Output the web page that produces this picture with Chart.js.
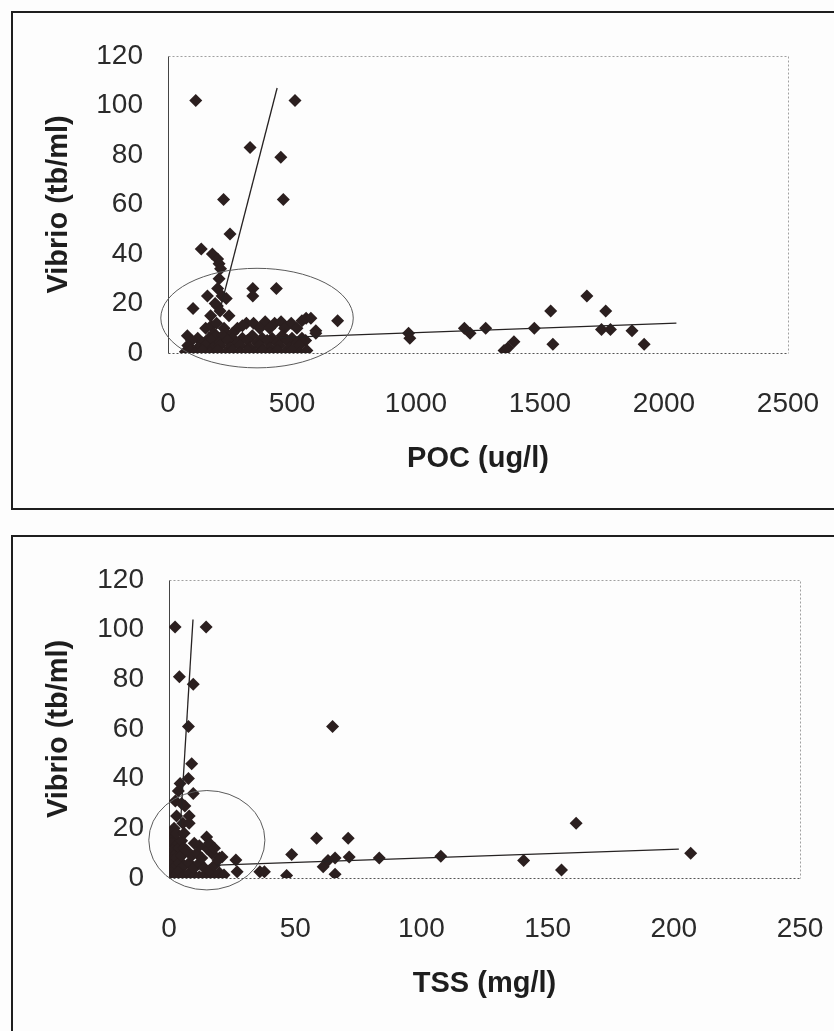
<!DOCTYPE html>
<html lang="en">
<head>
<meta charset="UTF-8">
<title>Vibrio vs POC and TSS</title>
<script src="https://cdn.jsdelivr.net/npm/chart.js"></script>
<style>
  body { margin: 0; background: #fdfdfd; font-family: "Liberation Sans", Arial, sans-serif; }
  .frame { position: absolute; border: 2px solid #1e1e1e; border-right: none; }
  #frameTop { left: 11px; top: 11px; width: 840px; height: 495px; }
  #frameBottom { left: 11px; top: 535px; width: 840px; height: 520px; border-bottom: none; }
  .box { position: absolute; }
  #boxTop { left: 14px; top: 14px; width: 820px; height: 492px; }
  #boxBottom { left: 14px; top: 538px; width: 820px; height: 493px; }
</style>
</head>
<body>
<div class="frame" id="frameTop"></div>
<div class="frame" id="frameBottom"></div>
<div class="box" id="boxTop"><canvas id="pocChart"></canvas></div>
<div class="box" id="boxBottom"><canvas id="tssChart"></canvas></div>

<script>
// ---- data ----
const vibrioTicks = [0, 20, 40, 60, 80, 100, 120];
const pocTicks = [0, 500, 1000, 1500, 2000, 2500];
const tssTicks = [0, 50, 100, 150, 200, 250];

// POC (ug/l) vs Vibrio (tb/ml)
const pocPoints = [
  [112,102],[512,102],[331,83],[455,79],[224,62],[465,62],[250,48],[134,42],[179,40],[200,38],
  [206,36],[212,34],[206,30],[200,26],[159,23],[218,23],[235,22],[342,26],[342,23],[437,26],
  [101,18],[199,19],[172,15],[246,15],[190,20],[210,17],
  [152,10],[175,11],[196,12],[226,10],[316,12],[345,12],[392,12.6],[430,12],[456,12.6],[497,12],
  [540,13],[557,14],[576,14],[684,13],[596,9],[596,8],[280,10],[300,11],[370,10],[410,10],
  [470,10],[520,10],[185,8],[235,8],[260,8],
  [78,7],[120,6],[165,6],[193,7],[220,7],[260,6],[300,6],[340,7],[380,6],[420,6],[460,7],[500,6],[540,6],
  [95,5],[140,4],[175,5],[205,4],[240,5],[280,4],[320,5],[360,4],[400,5],[440,4],[480,5],[520,4],[555,5],
  [80,3],[120,2],[150,3],[180,2],[210,3],[250,2],[290,3],[330,2],[370,3],[410,2],[450,3],[490,2],[530,3],
  [70,0.5],[90,1],[110,0],[140,1],[170,0],[200,1],[230,0],[260,1],[290,0],[320,1],[350,0],[380,1],
  [410,0],[440,1],[470,0],[500,1],[530,0],[560,1],
  [970,8],[975,6],[1195,10],[1218,8],[1281,10],[1355,1],[1370,2],[1395,4.5],[1477,10],[1543,17],
  [1552,3.5],[1689,23],[1765,17],[1748,9.5],[1784,9.5],[1871,9],[1920,3.5]
];
const pocSteep = [[215,19.5],[440,107]];
const pocFlat = [[450,6.2],[2050,12.1]];
const pocRing = [359, 14.1, 388, 20.1];   // centre x, centre y, radius x, radius y

// TSS (mg/l) vs Vibrio (tb/ml)
const tssPoints = [
  [2.4,101],[14.7,101],[4.1,81],[9.6,78],[7.7,61],[64.8,61],[9,46],[7.7,40],[4.4,38],[3.7,35],
  [9.6,34],[6.3,29],[2.5,31],[5,30],[8,25],[3,25],[5.5,22],[2,20],[8,22],
  [1,18],[2,16],[1,14],[3,13],[1.5,11],[4,12],[2,9],[1,7],[3,8],[0.5,5],[2,4],[4,6],[1,2],[3,1],
  [0.5,0],[2,0.5],[4,3],[5,9],[5,15],[3,18],[6,18],[6,12],[6,5],[6,1],
  [8,2],[10,1],[12,0.5],[14,1],[16,0.5],[18,1],[8,6],[10,4],[12,6],[14,4],[16,3],[18,5],
  [9,9],[11,10],[13,8],[15,12],[17,10],[12,13],[14.9,16.5],[16,14],[18,12],[10,14],[20,8],[20,2],[7,11],
  [21,8.5],[21.8,1.2],[19.4,7.2],[26.5,7.2],[27,2.5],[36,2.5],[37.8,2.5],[46.6,1],[48.6,9.5],
  [58.5,16],[61.1,4.5],[63,7],[65.8,8],[65.8,1.5],[71,16],[71.4,8.5],[83.3,8],[107.7,8.8],
  [140.5,7],[155.5,3.2],[161.3,22],[206.7,10]
];
const tssSteep = [[4.5,21],[9.5,104]];
const tssFlat = [[19,5.2],[202,11.6]];
const tssRing = [15, 15.2, 23, 20];

// ---- helpers ----
function toXY(list) {
  return list.map(p => ({ x: p[0], y: p[1] }));
}

// thin border round the plot area: solid left, dotted top/right/bottom
const plotBorder = {
  id: 'plotBorder',
  beforeDatasetsDraw(chart) {
    const { ctx, chartArea: a } = chart;
    const l = Math.round(a.left) + 0.5, r = Math.round(a.right) + 0.5;
    const t = Math.round(a.top) + 0.5, b = Math.round(a.bottom) + 0.5;
    ctx.save();
    ctx.lineWidth = 1;
    ctx.setLineDash([2, 2]);
    ctx.strokeStyle = '#a0a0a0';
    ctx.beginPath();
    ctx.moveTo(l, t); ctx.lineTo(r, t); ctx.lineTo(r, b);
    ctx.stroke();
    ctx.strokeStyle = '#555';
    ctx.beginPath();
    ctx.moveTo(l, b); ctx.lineTo(r, b);
    ctx.stroke();
    ctx.setLineDash([]);
    ctx.strokeStyle = '#444';
    ctx.beginPath();
    ctx.moveTo(l, t); ctx.lineTo(l, b);
    ctx.stroke();
    ctx.restore();
  }
};

// the hand-drawn ellipse round the dense cluster
const ringPlugin = {
  id: 'ring',
  afterDatasetsDraw(chart, args, opts) {
    const e = opts.ellipse;
    if (!e) return;
    const xs = chart.scales.x, ys = chart.scales.y;
    const cx = xs.getPixelForValue(e[0]);
    const cy = ys.getPixelForValue(e[1]);
    const rx = Math.abs(xs.getPixelForValue(e[0] + e[2]) - cx);
    const ry = Math.abs(ys.getPixelForValue(e[1] + e[3]) - cy);
    const ctx = chart.ctx;
    ctx.save();
    ctx.strokeStyle = '#5a5a5a';
    ctx.lineWidth = 1;
    ctx.beginPath();
    ctx.ellipse(cx, cy, rx, ry, 0, 0, Math.PI * 2);
    ctx.stroke();
    ctx.restore();
  }
};

const tickFont = { family: '"Liberation Sans", Arial, sans-serif', size: 28 };
const titleFont = { family: '"Liberation Sans", Arial, sans-serif', size: 29, weight: 'bold' };
const ink = '#262222';

function makeChart(id, points, steep, flat, ring, xTicks, xTitle, rightPad, yWidth) {
  const xStep = xTicks[1] - xTicks[0];
  return new Chart(document.getElementById(id), {
    type: 'scatter',
    data: {
      datasets: [
        { data: toXY(steep), showLine: true, borderColor: ink, borderWidth: 1.3, pointRadius: 0, order: 0 },
        { data: toXY(flat), showLine: true, borderColor: ink, borderWidth: 1.3, pointRadius: 0, order: 0 },
        { data: toXY(points), pointStyle: 'rectRot', pointRadius: 6.5, pointHoverRadius: 6.5,
          backgroundColor: '#2b1f1f', borderColor: '#2b1f1f', borderWidth: 0, order: 1 }
      ]
    },
    options: {
      responsive: true,
      maintainAspectRatio: false,
      animation: false,
      layout: { padding: { top: 40, right: rightPad, bottom: 0, left: 0 } },
      plugins: {
        legend: { display: false },
        tooltip: { enabled: false },
        ring: { ellipse: ring }
      },
      scales: {
        x: {
          type: 'linear',
          min: xTicks[0], max: xTicks[xTicks.length - 1],
          grid: { display: false, drawTicks: false },
          border: { display: false },
          ticks: { stepSize: xStep, autoSkip: false, maxRotation: 0, padding: 34, color: '#2a2a2a', font: tickFont,
                   callback: v => String(v) },
          title: { display: true, text: xTitle, color: '#1e1e1e', font: titleFont, padding: { top: 0, bottom: 30 } },
          afterFit(scale) {
            scale.height = 153;
            scale.paddingLeft = 0;
            scale.paddingRight = 0;
          }
        },
        y: {
          min: vibrioTicks[0], max: vibrioTicks[vibrioTicks.length - 1],
          grid: { display: false, drawTicks: false },
          border: { display: false },
          ticks: { stepSize: vibrioTicks[1] - vibrioTicks[0], padding: 25, color: '#2a2a2a', font: tickFont },
          title: { display: true, text: 'Vibrio (tb/ml)', color: '#1e1e1e', font: titleFont, padding: { top: 28, bottom: 0 } },
          afterFit(scale) { scale.width = yWidth; }
        }
      }
    },
    plugins: [plotBorder, ringPlugin]
  });
}

makeChart('pocChart', pocPoints, pocSteep, pocFlat, pocRing, pocTicks, 'POC (ug/l)', 46, 154);
makeChart('tssChart', tssPoints, tssSteep, tssFlat, tssRing, tssTicks, 'TSS (mg/l)', 34, 155);
</script>
</body>
</html>
